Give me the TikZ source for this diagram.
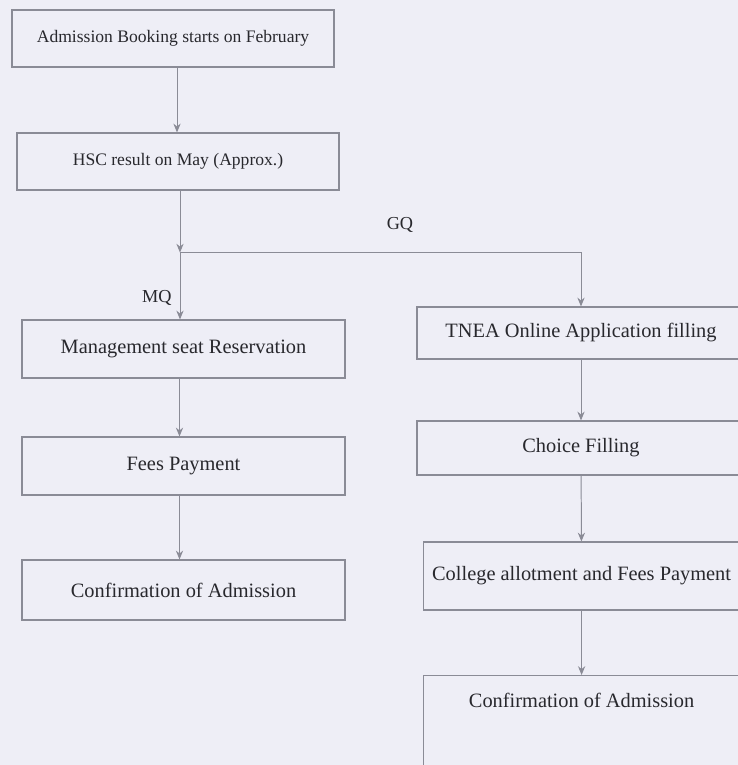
\documentclass[tikz,border=0pt]{standalone}
\usepackage{fontspec}
\setmainfont{Liberation Serif}
\usepackage{tikz}
\usetikzlibrary{calc, arrows.meta, positioning}

\definecolor{paper}{RGB}{238,238,246}
\definecolor{edge}{RGB}{138,139,150}
\definecolor{ink}{RGB}{40,40,45}

\tikzset{
	box/.style={draw=edge, line width=0.8pt, inner sep=0pt, text=ink,
		font=\fontsize{14.5}{16}\selectfont},
	smallbox/.style={box, font=\fontsize{12.5}{14}\selectfont},
	flow/.style={draw=edge, line width=0.7pt, -{Stealth[length=2.2mm,width=1.8mm]}},
	tag/.style={text=ink, font=\fontsize{13}{15}\selectfont}
}

\begin{document}
\begin{tikzpicture}
		\useasboundingbox (0,0) rectangle (18.45,-19.125);
		\clip (0,0) rectangle (18.45,-19.125);
		\fill[paper] (0,0) rectangle (18.45,-19.125);

		% left column
		\node[smallbox, minimum width=8.05cm, minimum height=1.425cm] (adm) at (4.325,-0.9625) {Admission Booking starts on February};
		\node[smallbox, minimum width=8.05cm, minimum height=1.425cm] (hsc) at (4.45,-4.0375) {HSC result on May (Approx.)};
		\node[box, minimum width=8.075cm, minimum height=1.45cm] (mgmt) at (4.5875,-8.725) {Management seat Reservation};
		\node[box, minimum width=8.075cm, minimum height=1.45cm] (fees) at (4.5875,-11.65) {Fees Payment};
		\node[box, minimum width=8.075cm, minimum height=1.5cm] (confL) at (4.5875,-14.75) {Confirmation of Admission};

		% right column
		\node[box, minimum width=8.2cm, minimum height=1.3cm] (tnea) at (14.525,-8.325) {TNEA Online Application filling};
		\node[box, minimum width=8.2cm, minimum height=1.35cm] (choice) at (14.525,-11.2) {Choice Filling};
		\node[box, minimum width=7.925cm, minimum height=1.7cm] (allot) at (14.54,-14.4) {College allotment and Fees Payment};
		\node[box, minimum width=7.925cm, text height=0.8cm, text depth=2cm, anchor=north] (confR) at (14.54,-16.875) {Confirmation of Admission};

		\coordinate (split) at ($(hsc.south)+(0.05,-1.55)$);
		\coordinate (admout) at ($(adm.south)+(0.1,0)$);
		\coordinate (mgmtout) at ($(mgmt.south)+(-0.1,0)$);
		\coordinate (feesout) at ($(fees.south)+(-0.1,0)$);

		\node[tag] (gq) at (10.0,-5.62) {GQ};
		\node[tag] (mq) at (3.92,-7.45) {MQ};

		\draw[flow] (admout) -- (admout |- hsc.north);
		\draw[flow] (split |- hsc.south) -- (split);
		\draw[flow] (split) -- (split |- mgmt.north);
		\draw[flow] (split) -| (tnea);
		\draw[flow] (mgmtout) -- (mgmtout |- fees.north);
		\draw[flow] (feesout) -- (feesout |- confL.north);
		\draw[flow] (tnea) -- (choice);
		\draw[flow] (choice) -- (allot);
		\draw[flow] (allot) -- (confR);

	\end{tikzpicture}
\end{document}
